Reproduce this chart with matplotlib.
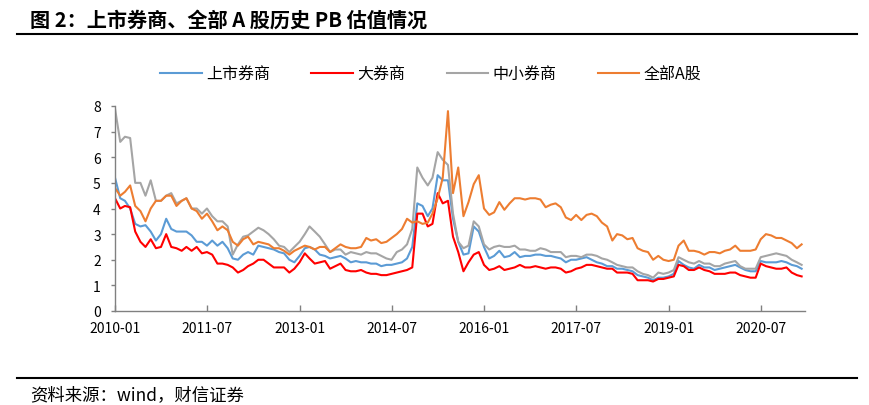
import numpy as np
import pandas as pd
import matplotlib
matplotlib.use("Agg")
import matplotlib.pyplot as plt
from matplotlib.lines import Line2D

plt.rcParams['font.family'] = ['Noto Sans CJK SC', 'DejaVu Sans']

# ---- data (monthly, 2010-01 .. 2021-03) ----
dates = pd.date_range("2010-01-01", periods=135, freq="MS")

listed_brokers = [  # 上市券商
    5.2, 4.4, 4.3, 4.0, 3.4, 3.3, 3.35, 3.1, 2.75, 3.0, 3.6, 3.2, 3.1, 3.1, 3.1, 2.95, 2.7, 2.7, 2.55, 2.75, 2.55, 2.7, 2.45,
    2.05, 2.0, 2.2, 2.3, 2.2, 2.55, 2.5, 2.45, 2.4, 2.3, 2.25, 2.0, 1.9, 2.15, 2.45, 2.5, 2.4, 2.2, 2.15, 2.05, 2.1, 2.15, 2.05,
    1.9, 1.95, 1.9, 1.9, 1.85, 1.85, 1.75, 1.8, 1.8, 1.85, 1.9, 2.05, 2.5, 4.2, 4.1, 3.7, 4.0, 5.3, 5.1, 5.1, 3.6, 2.7, 2.2,
    2.25, 3.3, 3.1, 2.5, 2.05, 2.15, 2.35, 2.1, 2.15, 2.3, 2.1, 2.15, 2.15, 2.2, 2.2, 2.15, 2.15, 2.1, 2.05, 1.9, 2.0, 2.0, 2.05, 2.1,
    2.0, 1.9, 1.85, 1.75, 1.75, 1.65, 1.65, 1.6, 1.55, 1.4, 1.35, 1.3, 1.2, 1.3, 1.3, 1.35, 1.45, 1.95, 1.8, 1.7, 1.65, 1.8,
    1.7, 1.7, 1.6, 1.65, 1.7, 1.75, 1.8, 1.7, 1.6, 1.55, 1.55, 1.95, 1.9, 1.9, 1.9, 1.95, 1.9, 1.8, 1.75, 1.65,
]

big_brokers = [  # 大券商
    4.4, 4.0, 4.1, 4.05, 3.1, 2.7, 2.5, 2.8, 2.45, 2.5, 3.0, 2.5, 2.45, 2.35, 2.5, 2.35, 2.5, 2.25, 2.3, 2.2, 1.85, 1.85, 1.8,
    1.7, 1.5, 1.6, 1.75, 1.85, 2.0, 2.0, 1.85, 1.7, 1.7, 1.7, 1.5, 1.65, 1.9, 2.25, 2.05, 1.85, 1.9, 1.95, 1.65, 1.75, 1.85, 1.6,
    1.55, 1.55, 1.6, 1.5, 1.45, 1.45, 1.4, 1.4, 1.45, 1.5, 1.55, 1.6, 1.7, 3.8, 3.8, 3.3, 3.4, 4.6, 4.2, 4.3, 2.9, 2.3, 1.55,
    1.9, 2.2, 2.3, 1.8, 1.6, 1.65, 1.75, 1.6, 1.65, 1.7, 1.8, 1.7, 1.7, 1.75, 1.7, 1.65, 1.7, 1.7, 1.65, 1.5, 1.55, 1.65, 1.7, 1.8,
    1.8, 1.75, 1.7, 1.65, 1.65, 1.5, 1.5, 1.5, 1.45, 1.2, 1.2, 1.2, 1.15, 1.25, 1.25, 1.3, 1.35, 1.8, 1.75, 1.6, 1.6, 1.7,
    1.6, 1.55, 1.45, 1.45, 1.45, 1.5, 1.5, 1.4, 1.35, 1.3, 1.3, 1.85, 1.75, 1.7, 1.65, 1.65, 1.7, 1.5, 1.4, 1.35,
]

small_brokers = [  # 中小券商
    7.9, 6.6, 6.8, 6.75, 5.0, 5.0, 4.5, 5.1, 4.3, 4.3, 4.5, 4.6, 4.2, 4.3, 4.4, 4.0, 4.0, 3.8, 4.0, 3.7, 3.5, 3.5, 3.3,
    2.2, 2.6, 2.9, 2.95, 3.1, 3.25, 3.15, 3.0, 2.8, 2.55, 2.5, 2.3, 2.5, 2.7, 3.0, 3.3, 3.1, 2.9, 2.6, 2.3, 2.4, 2.4, 2.2,
    2.3, 2.25, 2.2, 2.3, 2.25, 2.25, 2.15, 2.05, 2.0, 2.3, 2.4, 2.6, 3.2, 5.6, 5.2, 4.9, 5.2, 6.2, 5.9, 5.7, 3.8, 2.7, 2.45,
    2.55, 3.5, 3.3, 2.6, 2.4, 2.5, 2.55, 2.5, 2.5, 2.55, 2.4, 2.4, 2.35, 2.35, 2.45, 2.4, 2.3, 2.3, 2.3, 2.1, 2.15, 2.15, 2.1, 2.2,
    2.2, 2.15, 2.05, 2.0, 1.9, 1.8, 1.75, 1.7, 1.7, 1.55, 1.45, 1.4, 1.3, 1.5, 1.45, 1.5, 1.6, 2.1, 2.0, 1.9, 1.85, 1.95,
    1.85, 1.85, 1.75, 1.75, 1.85, 1.9, 1.95, 1.75, 1.65, 1.65, 1.65, 2.1, 2.15, 2.2, 2.25, 2.2, 2.15, 2.0, 1.9, 1.8,
]

all_a_shares = [  # 全部A股
    4.8, 4.5, 4.65, 4.9, 4.1, 3.9, 3.5, 4.0, 4.3, 4.3, 4.5, 4.5, 4.1, 4.3, 4.4, 4.0, 3.9, 3.6, 3.8, 3.5, 3.15, 3.3, 3.15,
    2.7, 2.55, 2.8, 2.9, 2.6, 2.7, 2.65, 2.6, 2.45, 2.45, 2.35, 2.2, 2.35, 2.45, 2.55, 2.5, 2.4, 2.5, 2.5, 2.3, 2.45, 2.6, 2.5,
    2.45, 2.45, 2.5, 2.85, 2.75, 2.8, 2.65, 2.7, 2.85, 3.0, 3.2, 3.6, 3.45, 3.5, 3.4, 3.45, 3.8, 4.4, 5.2, 7.8, 4.6, 5.6, 3.7,
    4.25, 4.95, 5.3, 4.0, 3.75, 3.85, 4.25, 3.95, 4.2, 4.4, 4.4, 4.35, 4.4, 4.4, 4.35, 4.05, 4.15, 4.2, 4.05, 3.65, 3.55, 3.75, 3.55, 3.75,
    3.8, 3.7, 3.45, 3.3, 2.75, 3.0, 2.95, 2.8, 2.85, 2.45, 2.35, 2.3, 2.0, 2.15, 2.0, 1.95, 2.0, 2.55, 2.75, 2.35, 2.35, 2.3,
    2.2, 2.3, 2.3, 2.25, 2.35, 2.4, 2.55, 2.35, 2.35, 2.35, 2.4, 2.8, 3.0, 2.95, 2.85, 2.85, 2.75, 2.65, 2.45, 2.6,
]

series_names = ["上市券商", "大券商", "中小券商", "全部A股"]
series_colors = ["#5B9BD5", "#FF0000", "#A5A5A5", "#ED7D31"]

tick_labels = ["2010-01", "2011-07", "2013-01", "2014-07", "2016-01", "2017-07", "2019-01", "2020-07"]
y_ticks = [0, 1, 2, 3, 4, 5, 6, 7, 8]

# ---- figure ----
fig = plt.figure(figsize=(8.70, 4.06), dpi=100)
ax = fig.add_axes([115/870, 1 - 312/406, (805 - 115)/870, (312 - 107)/406])

for vals, name, col in zip([listed_brokers, big_brokers, small_brokers, all_a_shares],
                           series_names, series_colors):
    ax.plot(dates, vals, color=col, lw=1.5, label=name)

ax.set_ylim(0, 8)
ax.set_yticks(y_ticks)
ax.set_xlim(dates[0], dates[-1] + pd.Timedelta(days=20))
ax.set_xticks(pd.to_datetime(tick_labels))
ax.set_xticklabels(tick_labels)

for s in ["top", "right"]:
    ax.spines[s].set_visible(False)
for s in ["left", "bottom"]:
    ax.spines[s].set_color("#808080")
    ax.spines[s].set_linewidth(1.0)

ax.tick_params(axis="x", direction="in", length=4.5, width=1, color="#808080",
               labelsize=10, pad=7, labelcolor="#000000")
ax.tick_params(axis="y", direction="out", length=3.2, width=1, color="#808080",
               labelsize=10, pad=7, labelcolor="#000000")

leg = fig.legend(loc="center", bbox_to_anchor=(0.495, 1 - 75/406), ncol=4, frameon=False,
                 fontsize=11.5, handlelength=2.6, handletextpad=0.25, columnspacing=2.6)
for t in leg.get_texts():
    t.set_color("#000000")

# title and rules
fig.text(30/870, 1 - 20/406, "图 2：上市券商、全部 A 股历史 PB 估值情况",
         fontsize=14.5, fontweight="bold", va="center", ha="left", color="#000000")
fig.add_artist(Line2D([17/870, 857/870], [1 - 35/406, 1 - 35/406], color="#000000", lw=1.5,
                      transform=fig.transFigure))
fig.add_artist(Line2D([17/870, 857/870], [1 - 379/406, 1 - 379/406], color="#000000", lw=1.5,
                      transform=fig.transFigure))
fig.text(30/870, 1 - 395/406, "资料来源：wind，财信证券", fontsize=12.5, style="italic",
         va="center", ha="left", color="#000000")

fig.savefig("out.png", dpi=100)
